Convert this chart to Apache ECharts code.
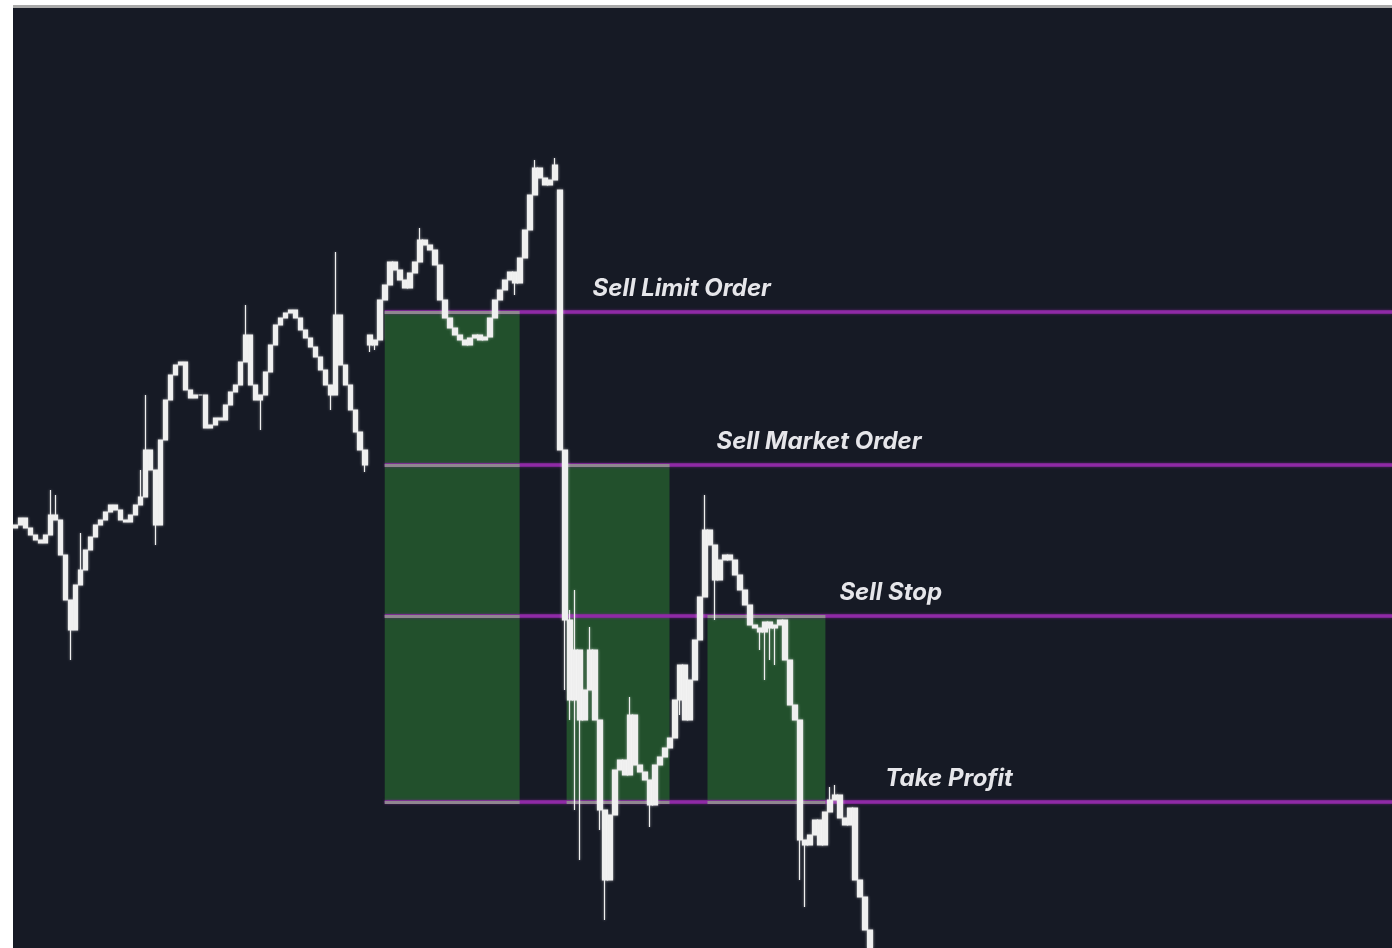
<!DOCTYPE html>
<html><head><meta charset="utf-8">
<script src="https://cdn.jsdelivr.net/npm/echarts@6/dist/echarts.min.js"></script>
<style>html,body{margin:0;padding:0;background:#fff}#c{width:1392px;height:948px}</style>
</head><body><div id="c"></div>
<script>
// ---- data (price units) ----
const slotCount = 276;            // candle slots across the chart
const closes = [
 423,430,420,413,408,405,413,433,428,393,
 348,318,363,378,398,411,423,428,436,443,
 438,428,426,433,443,451,498,478,423,508,
 548,573,583,586,558,550,553,553,520,523,
 530,528,543,556,563,586,613,563,548,553,
 576,603,623,630,635,638,630,618,610,601,
 591,578,563,553,633,583,563,538,516,498,
 483,603,608,648,663,686,678,668,660,675,
 686,708,703,698,683,648,630,620,613,608,
 603,610,613,608,611,630,648,658,668,676,
 665,690,718,753,780,770,763,768,783,498,
 328,248,298,228,258,298,228,138,68,133,
 178,188,173,233,183,176,168,143,183,191,
 200,210,248,283,228,268,308,351,418,403,
 368,388,393,388,373,358,343,323,320,316,
 326,320,323,328,288,243,228,108,103,113,
 128,103,136,148,153,130,123,140,68,51,
 18,0
];
const gapOpens = {0:420, 71:613, 109:758};
const wickHighs = {7:458,8:453,13:415,25:478,26:553,46:643,64:696,81:720,104:788,108:790,111:338,112:358,115:321,123:251,138:453,163:161,164:163};
const wickLows = {11:288,28:403,49:518,63:538,70:476,71:596,72:598,100:653,110:258,111:228,112:138,113:88,117:118,118:28,127:121,133:233,140:328,149:298,150:268,151:288,152:283,157:68,158:41};

const levelNames = ['Sell Limit Order','Sell Market Order','Sell Stop','Take Profit'];
const levelValues = [636,483,332,146];
const levelStart = 73.9;
const labelAt = [115.5,140.3,164.9,174.1];
// zones: [xFrom, xTo, top, bottom] in slot units / price units
const zones = [[73.9,100.9,636,146],[110.3,130.9,483,146],[138.5,162.1,332,146]];
// grey segments where levels cross zones: [xFrom, xTo, level]
const crossSegs = [
 [73.9,100.9,636],[73.9,100.9,483],[73.9,100.9,332],[73.9,100.9,146],
 [110.3,130.9,483],[110.3,130.9,146],
 [138.5,162.1,332],[138.5,162.1,146]
];

// ---- build ----
const categories = Array.from({length: slotCount}, (_, i) => 'bar' + (i + 1));
const candles = closes.map((c, i) => {
  const o = (gapOpens[i] !== undefined) ? gapOpens[i] : closes[i - 1];
  let lo = Math.min(o, c), hi = Math.max(o, c);
  if (wickLows[i] !== undefined) lo = Math.min(lo, wickLows[i]);
  if (wickHighs[i] !== undefined) hi = Math.max(hi, wickHighs[i]);
  return [o, c, lo, hi];
});

const chart = echarts.init(document.getElementById('c'));
const purple = '#8f2aa6';
const grey = '#8f8690';
chart.setOption({
  animation: false,
  backgroundColor: '#ffffff',
  grid: {left: 13, right: 0, top: 8, bottom: 0, show: true, backgroundColor: '#161a25', borderWidth: 0},
  xAxis: [
    {type: 'category', data: categories, show: false, boundaryGap: true},
    {type: 'value', min: -0.5, max: slotCount - 0.5, show: false}
  ],
  yAxis: {type: 'value', min: 0, max: 940, show: false},
  series: [
    {
      type: 'line', xAxisIndex: 1, data: [], z: 1, silent: true,
      markArea: {
        silent: true,
        itemStyle: {color: '#22502c'},
        data: zones.map(z => [{coord: [z[0], z[2]]}, {coord: [z[1], z[3]]}])
      }
    },
    {
      type: 'line', xAxisIndex: 1, data: [], z: 2, silent: true,
      markLine: {
        silent: true, symbol: ['none','none'], label: {show: false},
        lineStyle: {color: purple, width: 3.5, type: 'solid', shadowBlur: 3, shadowColor: 'rgba(143,42,166,0.6)'},
        data: levelValues.map(v => [{coord: [levelStart, v]}, {coord: [slotCount - 0.5, v]}])
      }
    },
    {
      type: 'line', xAxisIndex: 1, data: [], z: 3, silent: true,
      markLine: {
        silent: true, symbol: ['none','none'], label: {show: false},
        lineStyle: {color: grey, width: 3, type: 'solid'},
        data: crossSegs.map(s => [{coord: [s[0], s[2]]}, {coord: [s[1], s[2]]}])
      }
    },
    {
      type: 'candlestick', xAxisIndex: 0, data: candles, z: 5, barWidth: 5,
      itemStyle: {color: '#eeeeee', color0: '#eeeeee', borderColor: '#eeeeee', borderColor0: '#eeeeee', borderWidth: 1.2,
        shadowBlur: 3, shadowColor: 'rgba(255,255,255,0.45)'}
    }
  ]
});

const texts = levelNames.map((name, k) => {
  const p = chart.convertToPixel({xAxisIndex: 1, yAxisIndex: 0}, [labelAt[k], levelValues[k]]);
  return {
    type: 'text', left: p[0], top: p[1] - 35, z: 10,
    style: {text: name, fill: '#e6e6ea', font: 'italic bold 24px Inter, "Noto Sans", sans-serif',
      shadowBlur: 2, shadowColor: 'rgba(230,230,234,0.4)'}
  };
});
texts.push({type: 'rect', shape: {x: 13, y: 5, width: 1379, height: 3}, style: {fill: '#a9a9a9'}, z: 10});
chart.setOption({graphic: texts});
</script>
</body></html>
